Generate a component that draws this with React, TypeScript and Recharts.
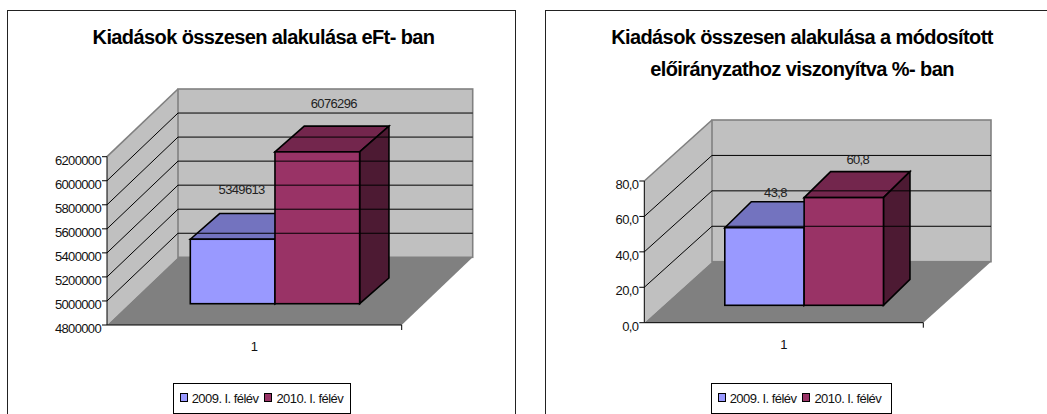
import React from 'react'
import { BarChart, Bar, XAxis, YAxis, ReferenceArea, ReferenceLine, Legend } from 'recharts'

const SERIES_NAMES = ['2009. I. félév', '2010. I. félév']
const CATEGORIES = ['1']

const AMOUNT_VALUES = [5349613, 6076296]
const AMOUNT_TICKS = [4800000, 5000000, 5200000, 5400000, 5600000, 5800000, 6000000, 6200000]
const AMOUNT_TITLE = ['Kiadások összesen alakulása eFt- ban']

const PERCENT_VALUES = [43.8, 60.8]
const PERCENT_TICKS = [0, 20, 40, 60, 80]
const PERCENT_TITLE = ['Kiadások összesen alakulása a módosított', 'előirányzathoz viszonyítva %- ban']

// front, top and side faces of the 3D columns
const FRONT_COLORS = ['#9999FF', '#993366']
const TOP_COLORS = ['#7373BF', '#73264D']
const SIDE_COLORS = ['#4D4D80', '#4D1A33']

const FONT = '"Liberation Sans", Arial, sans-serif'

const comma = (v: number) => v.toFixed(1).replace('.', ',')
const plain = (v: number) => String(v)

interface PanelProps {
  left: number
  width: number
  titleLines: string[]
  titleCenter: number
  values: number[]
  ticks: number[]
  format: (v: number) => string
  plot: { left: number; right: number; top: number; bottom: number }
  wall: { dx: number; dy: number }
  bar: { width: number; shiftX: number; shiftY: number; dx: number; dy: number; topTrim: number }
  labelShift: number[]
  labelRise: number[]
  legendLeft: number
  legendWidth: number
}

function Panel(p: PanelProps) {
  const H = 404
  const row: Record<string, string | number> = { category: CATEGORIES[0] }
  p.values.forEach((v, i) => { row[`s${i}`] = v })

  const walls = ({ x, y, width, height }: any) => {
    const { dx, dy } = p.wall
    const b = y + height
    return (
      <g>
        <polygon points={`${x},${y} ${x + dx},${y - dy} ${x + dx},${b - dy} ${x},${b}`} fill="#C0C0C0" />
        <line x1={x} y1={y} x2={x + dx} y2={y - dy} stroke="#808080" strokeWidth={1.6} />
        <rect x={x + dx} y={y - dy} width={width} height={height} fill="#C0C0C0" stroke="#808080" strokeWidth={1.6} />
        <polygon points={`${x},${b} ${x + width},${b} ${x + width + dx},${b - dy} ${x + dx},${b - dy}`} fill="#808080" />
        <line x1={x + width} y1={b} x2={x + width} y2={b + 5} stroke="#000" />
      </g>
    )
  }

  // a wall gridline runs back along the side wall, then across the back wall
  const gridLine = ({ x1, x2, y1 }: any) => {
    const { dx, dy } = p.wall
    return (
      <path
        d={`M${x1},${y1} L${x1 + dx},${y1 - dy} L${x2 + dx},${y1 - dy}`}
        fill="none"
        stroke="#000"
        strokeWidth={1}
      />
    )
  }

  const column = (index: number) => ({ x, y, width, height }: any) => {
    const { shiftX, shiftY, dx, dy, topTrim } = p.bar
    const l = x + shiftX
    const t = y - shiftY + topTrim
    const r = l + width
    const b = y - shiftY + height
    const edge = { stroke: '#000', strokeWidth: 1.6, strokeLinejoin: 'miter' as const }
    return (
      <g>
        <polygon points={`${l},${t} ${l + dx},${t - dy} ${r + dx},${t - dy} ${r},${t}`} fill={TOP_COLORS[index]} {...edge} />
        <polygon points={`${r},${t} ${r + dx},${t - dy} ${r + dx},${b - dy} ${r},${b}`} fill={SIDE_COLORS[index]} {...edge} />
        <rect x={l} y={t} width={width} height={b - t} fill={FRONT_COLORS[index]} {...edge} />
      </g>
    )
  }

  const valueLabel = (index: number) => ({ x, y, width, value }: any) => (
    <text
      x={x + width / 2 + p.bar.shiftX + p.labelShift[index]}
      y={y - p.bar.shiftY - p.labelRise[index]}
      textAnchor="middle"
      fontSize={13}
      letterSpacing={-0.65}
      fill="#222"
    >
      {p.format(Number(value))}
    </text>
  )

  const yTick = ({ x, y, payload }: any) => (
    <text x={x + 1} y={y + 8} textAnchor="end" fontSize={13} letterSpacing={-0.65} fill="#111">
      {p.format(payload.value)}
    </text>
  )

  const xTick = ({ x, y, payload }: any) => (
    <text x={x} y={y + 18} textAnchor="middle" fontSize={13} fill="#111">
      {payload.value}
    </text>
  )

  const legend = ({ payload }: any) => (
    <div
      style={{
        boxSizing: 'border-box',
        width: p.legendWidth,
        height: 31,
        border: '1px solid #000',
        background: '#fff',
        display: 'flex',
        alignItems: 'center',
        paddingLeft: 6,
        fontFamily: FONT,
        fontSize: 13,
        letterSpacing: -0.55,
        color: '#111',
        whiteSpace: 'nowrap',
      }}
    >
      {(payload || []).map((item: any, i: number) => (
        <span key={item.value} style={{ display: 'flex', alignItems: 'center', marginRight: 6 }}>
          <span
            style={{
              boxSizing: 'border-box',
              width: 8,
              height: 9,
              marginRight: 4,
              marginTop: -3,
              border: '1px solid #000',
              background: FRONT_COLORS[i],
            }}
          />
          {item.value}
        </span>
      ))}
    </div>
  )

  return (
    <div
      style={{
        position: 'absolute',
        left: p.left,
        top: 10,
        width: p.width,
        height: H + 10,
        boxSizing: 'border-box',
        border: '1px solid #222',
        background: '#fff',
      }}
    >
      {p.titleLines.map((line, i) => (
        <div
          key={line}
          style={{
            position: 'absolute',
            left: p.titleCenter - 300,
            width: 600,
            top: 16 + i * 31.7,
            textAlign: 'center',
            fontFamily: FONT,
            fontWeight: 700,
            fontSize: 20,
            lineHeight: '20px',
            letterSpacing: -0.6,
            color: '#000',
          }}
        >
          {line}
        </div>
      ))}
      <div style={{ position: 'absolute', left: -1, top: -1 }}>
        <BarChart
          width={p.width}
          height={H}
          data={[row]}
          barGap={0}
          barSize={p.bar.width}
          margin={{ top: p.plot.top, left: p.plot.left - 60, right: p.width - p.plot.right, bottom: H - p.plot.bottom - 30 }}
          style={{ fontFamily: FONT }}
        >
          <ReferenceArea y1={p.ticks[0]} y2={p.ticks[p.ticks.length - 1]} shape={walls} ifOverflow="visible" />
          {p.ticks.slice(1, -1).map((t) => (
            <ReferenceLine key={t} y={t} shape={gridLine} ifOverflow="visible" />
          ))}
          <XAxis dataKey="category" height={30} axisLine={{ stroke: '#000' }} tickLine={false} tick={xTick} />
          <YAxis
            width={60}
            type="number"
            domain={[p.ticks[0], p.ticks[p.ticks.length - 1]]}
            ticks={p.ticks}
            interval={0}
            tickSize={5}
            axisLine={{ stroke: '#000' }}
            tickLine={{ stroke: '#000' }}
            tick={yTick}
          />
          {SERIES_NAMES.map((name, i) => (
            <Bar
              key={name}
              dataKey={`s${i}`}
              name={name}
              fill={FRONT_COLORS[i]}
              shape={column(i)}
              label={valueLabel(i)}
              isAnimationActive={false}
            />
          ))}
          <Legend
            layout="vertical"
            align="center"
            verticalAlign="middle"
            content={legend}
            wrapperStyle={{ left: p.legendLeft, top: 373.3, width: p.legendWidth, height: 31 }}
          />
        </BarChart>
      </div>
    </div>
  )
}

export default function App() {
  return (
    <div style={{ position: 'absolute', left: 0, top: 0, width: 1047, height: 414, overflow: 'hidden', background: '#fff' }}>
      <Panel
        left={7}
        width={509}
        titleLines={AMOUNT_TITLE}
        titleCenter={255.5}
        values={AMOUNT_VALUES}
        ticks={AMOUNT_TICKS}
        format={plain}
        plot={{ left: 100, right: 394.7, top: 146.7, bottom: 315 }}
        wall={{ dx: 71, dy: 67.7 }}
        bar={{ width: 84.67, shiftX: 20.3, shiftY: 21.3, dx: 29.3, dy: 25.7, topTrim: 1.6 }}
        labelShift={[9, 16.5]}
        labelRise={[43.4, 41.8]}
        legendLeft={165.7}
        legendWidth={178.3}
      />
      <Panel
        left={545}
        width={510}
        titleLines={PERCENT_TITLE}
        titleCenter={256}
        values={PERCENT_VALUES}
        ticks={PERCENT_TICKS}
        format={comma}
        plot={{ left: 99.3, right: 378.3, top: 171, bottom: 312.7 }}
        wall={{ dx: 67.7, dy: 61 }}
        bar={{ width: 79.33, shiftX: 20.5, shiftY: 17.4, dx: 26.5, dy: 26, topTrim: 0 }}
        labelShift={[11, 14]}
        labelRise={[30.4, 33.4]}
        legendLeft={165.7}
        legendWidth={181}
      />
    </div>
  )
}
